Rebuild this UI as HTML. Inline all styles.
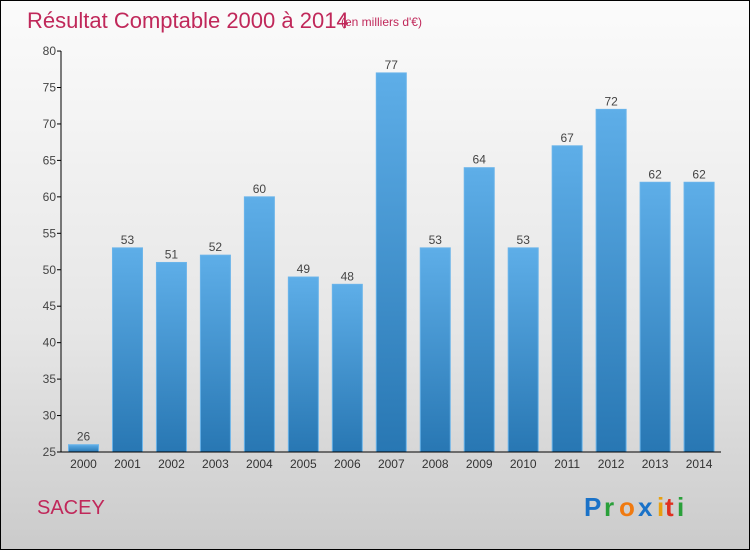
<!DOCTYPE html>
<html><head><meta charset="utf-8"><style>
body{margin:0}
#c{position:relative;width:748px;height:548px;border:1px solid #000;background:linear-gradient(#fbfbfb,#e6e6e6 60%,#cbcbcb);font-family:"Liberation Sans",sans-serif;overflow:hidden}
</style></head><body>
<div id="c">
<svg id="s" width="748" height="548" style="position:absolute;left:0;top:0">
<defs><linearGradient id="g" x1="0" y1="0" x2="0" y2="1"><stop offset="0" stop-color="#5eaee8"/><stop offset="1" stop-color="#2877b3"/></linearGradient></defs>
<text x="26" y="27" font-size="22" fill="#c0285a">Résultat Comptable 2000 à 2014</text>
<text x="340" y="25" font-size="12" fill="#c0285a">(en milliers d'€)</text>
<text x="36" y="513" font-size="20" fill="#c0285a">SACEY</text>
<g font-size="26" font-weight="bold">
<text x="583" y="515" fill="#1a72c8">P</text><text x="603" y="515" fill="#2aa03a">r</text><text x="618" y="515" fill="#f07a10">o</text><text x="637" y="515" fill="#1a72c8">x</text><text x="656" y="515" fill="#e8a010">i</text><text x="664" y="515" fill="#e03020">t</text><text x="676" y="515" fill="#2aa03a">i</text>
</g>
</svg>
</div>
<script>
const years=["2000","2001","2002","2003","2004","2005","2006","2007","2008","2009","2010","2011","2012","2013","2014"];
const values=[26,53,51,52,60,49,48,77,53,64,53,67,72,62,62];
const ticks=[25,30,35,40,45,50,55,60,65,70,75,80];
const s=document.getElementById('s');const NS='http://www.w3.org/2000/svg';
const y=v=>451-(v-25)*7.29;
const x=i=>82.5+i*43.97;
function mk(t,a){const e=document.createElementNS(NS,t);for(const k in a)e.setAttribute(k,a[k]);s.appendChild(e);return e;}
years.forEach((yr,i)=>{
const r=mk('rect',{x:x(i)-15,y:y(values[i]),width:30,height:451-y(values[i]),fill:'url(#g)',stroke:'#6ab4ea','stroke-width':1});


const l=mk('text',{x:x(i),y:y(values[i])-4,'text-anchor':'middle','font-size':12,fill:'#444'});l.textContent=values[i];


const t=mk('text',{x:x(i),y:467,'text-anchor':'middle','font-size':12,fill:'#333'});t.textContent=yr;


});
ticks.forEach(v=>{
const tk=mk('line',{x1:56,x2:60,y1:y(v),y2:y(v),stroke:'#000'});


const t=mk('text',{x:55,y:y(v)+4,'text-anchor':'end','font-size':12,fill:'#444'});t.textContent=v;


});
const ya=mk('line',{x1:60,x2:60,y1:y(80),y2:451,stroke:'#000'});


const xa=mk('line',{x1:60,x2:720,y1:451,y2:451,stroke:'#000'});


</script>
</body></html>
